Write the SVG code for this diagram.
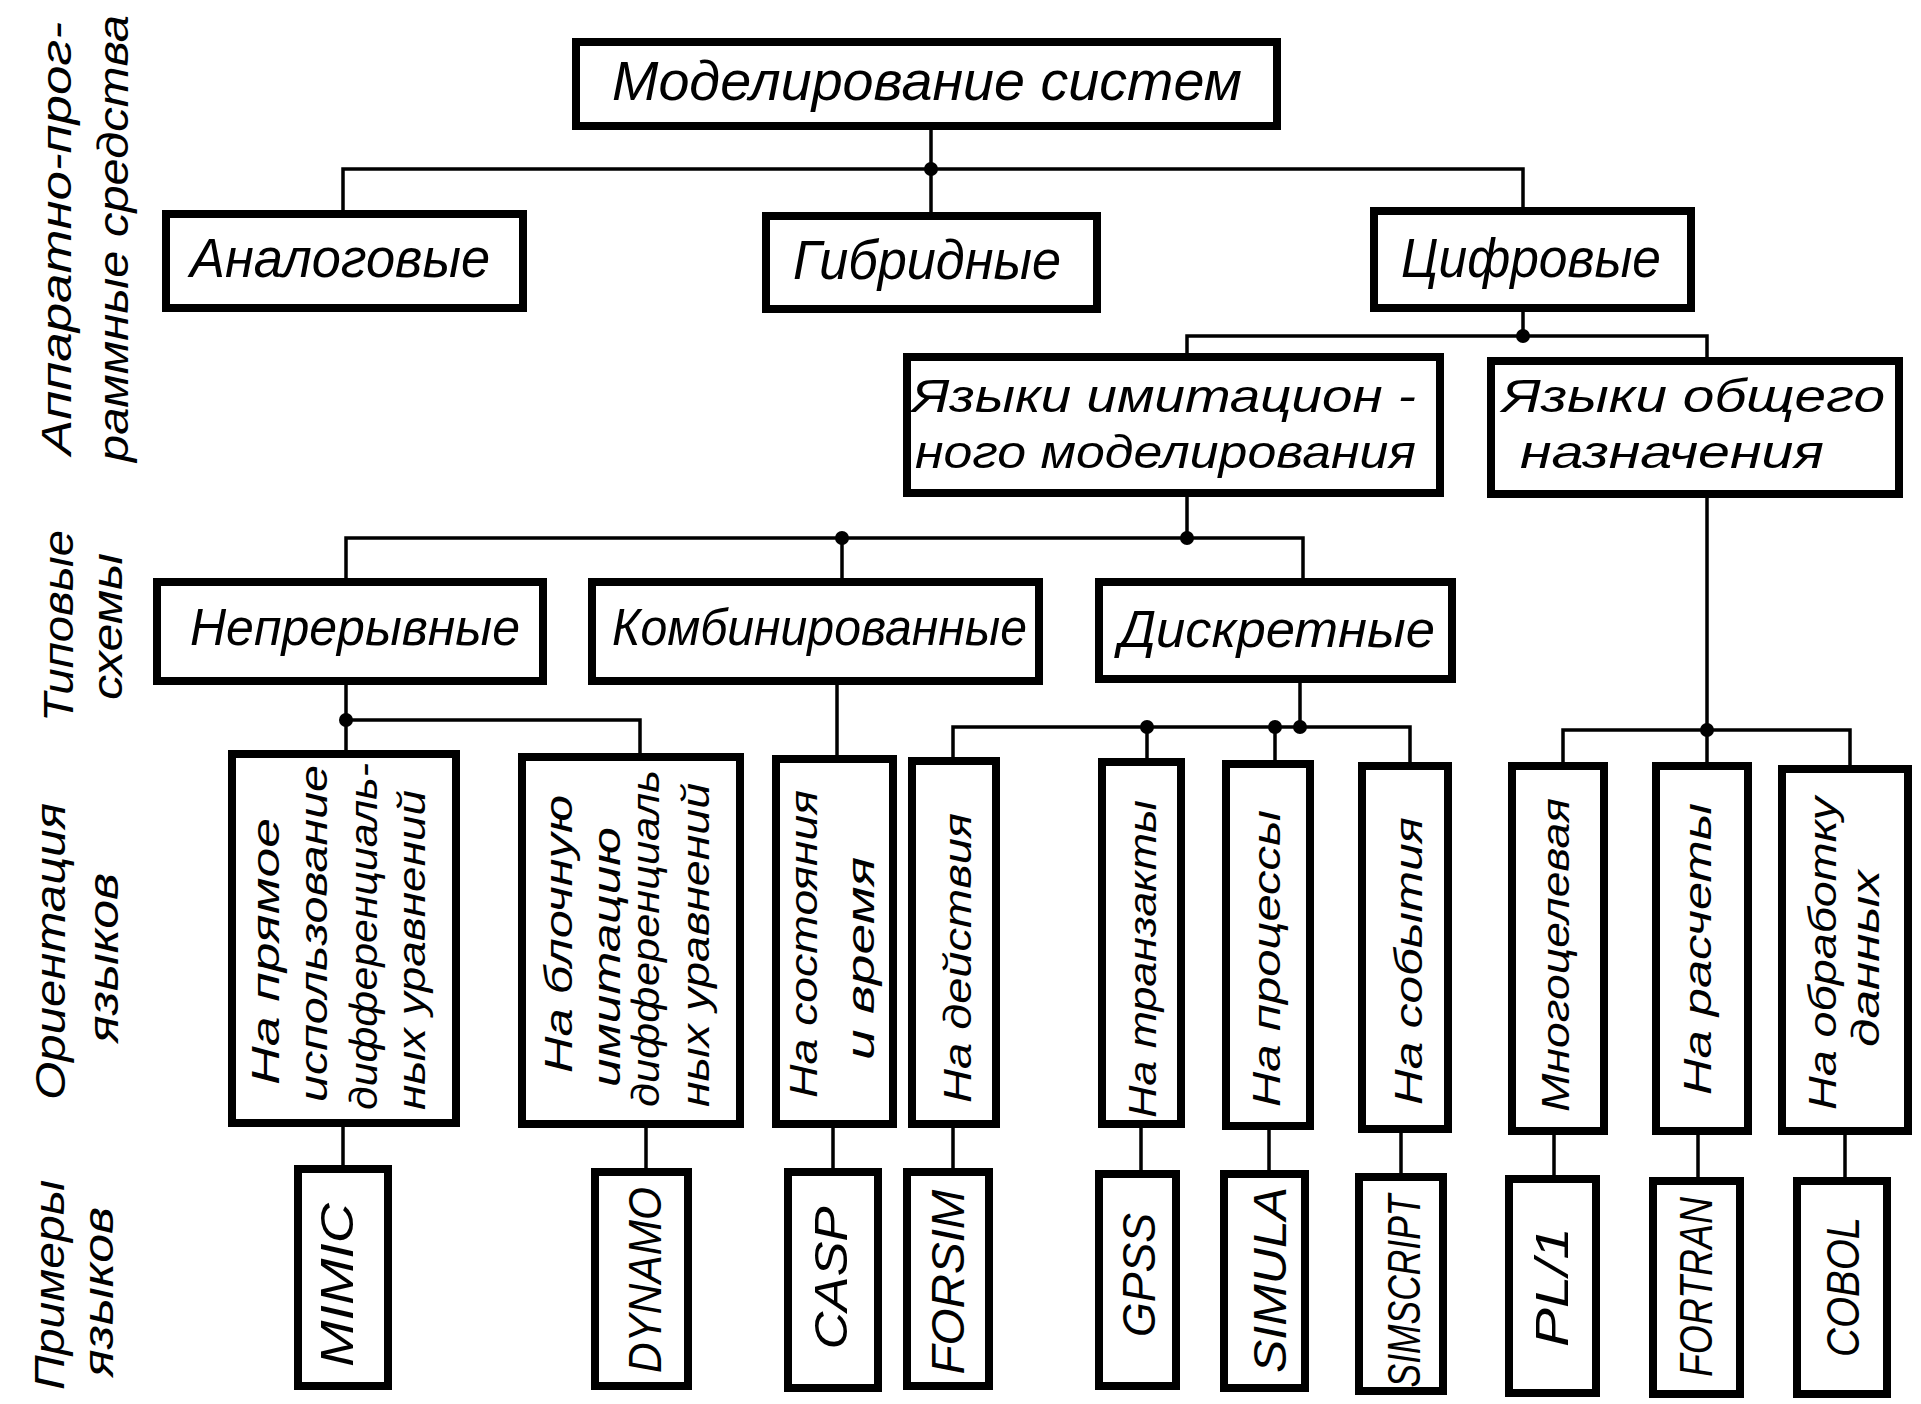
<svg xmlns="http://www.w3.org/2000/svg" width="1921" height="1404" viewBox="0 0 1921 1404">
<style>
.box{fill:#fff;stroke:#000;stroke-width:8}
.t{font-family:"Liberation Sans","DejaVu Sans",sans-serif;font-style:italic;fill:#000}
.h1{font-size:56px}
.h3{font-size:46px}
.h4{font-size:52px}
.v5{font-size:39px}
.v6{font-size:46px}
.lab{font-size:42px}
.conn{fill:none;stroke:#000;stroke-width:3.5}
.dot{fill:#000}
</style>
<rect width="1921" height="1404" fill="#fff"/>

<g id="side-labels">
<text class="t lab" transform="translate(56,455) rotate(-90)" dominant-baseline="central" textLength="433" lengthAdjust="spacingAndGlyphs">Аппаратно-прог-</text>
<text class="t lab" transform="translate(113,462) rotate(-90)" dominant-baseline="central" textLength="447" lengthAdjust="spacingAndGlyphs">раммные средства</text>
<text class="t lab" transform="translate(58,722) rotate(-90)" dominant-baseline="central" textLength="192" lengthAdjust="spacingAndGlyphs">Типовые</text>
<text class="t lab" transform="translate(107,700) rotate(-90)" dominant-baseline="central" textLength="147" lengthAdjust="spacingAndGlyphs">схемы</text>
<text class="t lab" transform="translate(50,1100) rotate(-90)" dominant-baseline="central" textLength="297" lengthAdjust="spacingAndGlyphs">Ориентация</text>
<text class="t lab" transform="translate(103,1043) rotate(-90)" dominant-baseline="central" textLength="170" lengthAdjust="spacingAndGlyphs">языков</text>
<text class="t lab" transform="translate(49,1390) rotate(-90)" dominant-baseline="central" textLength="210" lengthAdjust="spacingAndGlyphs">Примеры</text>
<text class="t lab" transform="translate(98,1377) rotate(-90)" dominant-baseline="central" textLength="170" lengthAdjust="spacingAndGlyphs">языков</text>
</g>

<g id="connectors">
<path class="conn" d="M931 128V169M343 210V169H1523V207M931 169V212"/>
<path class="conn" d="M1523 312V336M1187 353V336H1707V357"/>
<path class="conn" d="M1187 497V538M346 578V538H1303V578M842 538V578"/>
<path class="conn" d="M346 685V750M346 720H640V753"/>
<path class="conn" d="M837 685V755"/>
<path class="conn" d="M1300 683V727M953 757V727H1410V762M1147 727V758M1275 727V760"/>
<path class="conn" d="M1707 498V762M1563 762V730H1850V765"/>
<path class="conn" d="M343 1127V1165M646 1128V1168M833 1128V1168M953 1128V1168M1141 1128V1170M1269 1130V1170M1401 1133V1173M1554 1135V1175M1698 1135V1177M1845 1135V1177"/>
<circle class="dot" cx="931" cy="169" r="7"/>
<circle class="dot" cx="1523" cy="336" r="7"/>
<circle class="dot" cx="1187" cy="538" r="7"/>
<circle class="dot" cx="842" cy="538" r="7"/>
<circle class="dot" cx="346" cy="720" r="7"/>
<circle class="dot" cx="1300" cy="727" r="7"/>
<circle class="dot" cx="1147" cy="727" r="7"/>
<circle class="dot" cx="1275" cy="727" r="7"/>
<circle class="dot" cx="1707" cy="730" r="7"/>
</g>

<g id="n-root"><rect class="box" x="576" y="42" width="701" height="84"/>
<text class="t h1" x="612" y="100" textLength="630" lengthAdjust="spacingAndGlyphs">Моделирование систем</text></g>

<g id="n-analog"><rect class="box" x="166" y="214" width="357" height="94"/>
<text class="t h1" x="190" y="277" textLength="300" lengthAdjust="spacingAndGlyphs">Аналоговые</text></g>
<g id="n-hybrid"><rect class="box" x="766" y="216" width="331" height="93"/>
<text class="t h1" x="793" y="279" textLength="268" lengthAdjust="spacingAndGlyphs">Гибридные</text></g>
<g id="n-digital"><rect class="box" x="1374" y="211" width="317" height="97"/>
<text class="t h1" x="1401" y="277" textLength="260" lengthAdjust="spacingAndGlyphs">Цифровые</text></g>

<g id="n-simlang"><rect class="box" x="907" y="357" width="533" height="136"/>
<text class="t h3" x="912" y="412" textLength="504" lengthAdjust="spacingAndGlyphs">Языки имитацион -</text>
<text class="t h3" x="915" y="468" textLength="501" lengthAdjust="spacingAndGlyphs">ного моделирования</text></g>
<g id="n-genlang"><rect class="box" x="1491" y="361" width="408" height="133"/>
<text class="t h3" x="1502" y="412" textLength="383" lengthAdjust="spacingAndGlyphs">Языки общего</text>
<text class="t h3" x="1520" y="468" textLength="304" lengthAdjust="spacingAndGlyphs">назначения</text></g>

<g id="n-cont"><rect class="box" x="157" y="582" width="386" height="99"/>
<text class="t h4" x="190" y="645" textLength="330" lengthAdjust="spacingAndGlyphs">Непрерывные</text></g>
<g id="n-comb"><rect class="box" x="592" y="582" width="447" height="99"/>
<text class="t h4" x="612" y="645" textLength="415" lengthAdjust="spacingAndGlyphs">Комбинированные</text></g>
<g id="n-disc"><rect class="box" x="1099" y="582" width="353" height="97"/>
<text class="t h4" x="1119" y="647" textLength="316" lengthAdjust="spacingAndGlyphs">Дискретные</text></g>

<g id="n-direct"><rect class="box" x="232" y="754" width="224" height="369"/>
<text class="t v5" transform="translate(265,1085) rotate(-90)" dominant-baseline="central" textLength="267" lengthAdjust="spacingAndGlyphs">На прямое</text>
<text class="t v5" transform="translate(313,1102) rotate(-90)" dominant-baseline="central" textLength="337" lengthAdjust="spacingAndGlyphs">использование</text>
<text class="t v5" transform="translate(363,1110) rotate(-90)" dominant-baseline="central" textLength="347" lengthAdjust="spacingAndGlyphs">дифференциаль-</text>
<text class="t v5" transform="translate(411,1110) rotate(-90)" dominant-baseline="central" textLength="320" lengthAdjust="spacingAndGlyphs">ных уравнений</text></g>
<g id="n-block"><rect class="box" x="522" y="757" width="218" height="367"/>
<text class="t v5" transform="translate(558,1073) rotate(-90)" dominant-baseline="central" textLength="278" lengthAdjust="spacingAndGlyphs">На блочную</text>
<text class="t v5" transform="translate(606,1087) rotate(-90)" dominant-baseline="central" textLength="260" lengthAdjust="spacingAndGlyphs">имитацию</text>
<text class="t v5" transform="translate(645,1107) rotate(-90)" dominant-baseline="central" textLength="337" lengthAdjust="spacingAndGlyphs">дифференциаль</text>
<text class="t v5" transform="translate(695,1107) rotate(-90)" dominant-baseline="central" textLength="324" lengthAdjust="spacingAndGlyphs">ных уравнений</text></g>
<g id="n-state"><rect class="box" x="776" y="759" width="117" height="365"/>
<text class="t v5" transform="translate(803,1098) rotate(-90)" dominant-baseline="central" textLength="308" lengthAdjust="spacingAndGlyphs">На состояния</text>
<text class="t v5" transform="translate(860,1060) rotate(-90)" dominant-baseline="central" textLength="203" lengthAdjust="spacingAndGlyphs">и время</text></g>
<g id="n-action"><rect class="box" x="912" y="761" width="84" height="363"/>
<text class="t v5" transform="translate(957,1103) rotate(-90)" dominant-baseline="central" textLength="290" lengthAdjust="spacingAndGlyphs">На действия</text></g>
<g id="n-trans"><rect class="box" x="1102" y="762" width="79" height="362"/>
<text class="t v5" transform="translate(1142,1118) rotate(-90)" dominant-baseline="central" textLength="318" lengthAdjust="spacingAndGlyphs">На транзакты</text></g>
<g id="n-proc"><rect class="box" x="1226" y="764" width="84" height="362"/>
<text class="t v5" transform="translate(1266,1107) rotate(-90)" dominant-baseline="central" textLength="297" lengthAdjust="spacingAndGlyphs">На процессы</text></g>
<g id="n-event"><rect class="box" x="1362" y="766" width="86" height="363"/>
<text class="t v5" transform="translate(1408,1105) rotate(-90)" dominant-baseline="central" textLength="288" lengthAdjust="spacingAndGlyphs">На события</text></g>
<g id="n-multi"><rect class="box" x="1512" y="766" width="92" height="365"/>
<text class="t v5" transform="translate(1555,1112) rotate(-90)" dominant-baseline="central" textLength="314" lengthAdjust="spacingAndGlyphs">Многоцелевая</text></g>
<g id="n-calc"><rect class="box" x="1656" y="766" width="92" height="365"/>
<text class="t v5" transform="translate(1697,1095) rotate(-90)" dominant-baseline="central" textLength="292" lengthAdjust="spacingAndGlyphs">На расчеты</text></g>
<g id="n-data"><rect class="box" x="1782" y="769" width="126" height="362"/>
<text class="t v5" transform="translate(1822,1110) rotate(-90)" dominant-baseline="central" textLength="313" lengthAdjust="spacingAndGlyphs">На обработку</text>
<text class="t v5" transform="translate(1865,1047) rotate(-90)" dominant-baseline="central" textLength="177" lengthAdjust="spacingAndGlyphs">данных</text></g>

<g id="n-mimic"><rect class="box" x="298" y="1169" width="90" height="217"/>
<text class="t v6" transform="translate(337,1285) rotate(-90)" text-anchor="middle" dominant-baseline="central" textLength="164" lengthAdjust="spacingAndGlyphs">MIMIC</text></g>
<g id="n-dynamo"><rect class="box" x="595" y="1172" width="93" height="214"/>
<text class="t v6" transform="translate(645,1280) rotate(-90)" text-anchor="middle" dominant-baseline="central" textLength="186" lengthAdjust="spacingAndGlyphs">DYNAMO</text></g>
<g id="n-casp"><rect class="box" x="788" y="1172" width="90" height="216"/>
<text class="t v6" transform="translate(831,1278) rotate(-90)" text-anchor="middle" dominant-baseline="central" textLength="143" lengthAdjust="spacingAndGlyphs">CASP</text></g>
<g id="n-forsim"><rect class="box" x="907" y="1172" width="82" height="214"/>
<text class="t v6" transform="translate(948,1282) rotate(-90)" text-anchor="middle" dominant-baseline="central" textLength="185" lengthAdjust="spacingAndGlyphs">FORSIM</text></g>
<g id="n-gpss"><rect class="box" x="1099" y="1174" width="77" height="212"/>
<text class="t v6" transform="translate(1139,1275) rotate(-90)" text-anchor="middle" dominant-baseline="central" textLength="124" lengthAdjust="spacingAndGlyphs">GPSS</text></g>
<g id="n-simula"><rect class="box" x="1224" y="1174" width="81" height="214"/>
<text class="t v6" transform="translate(1270,1280) rotate(-90)" text-anchor="middle" dominant-baseline="central" textLength="186" lengthAdjust="spacingAndGlyphs">SIMULA</text></g>
<g id="n-simscript"><rect class="box" x="1359" y="1177" width="84" height="214"/>
<text class="t v6" transform="translate(1404,1291) rotate(-90)" text-anchor="middle" dominant-baseline="central" textLength="193" lengthAdjust="spacingAndGlyphs">SIMSCRIPT</text></g>
<g id="n-pl1"><rect class="box" x="1509" y="1179" width="87" height="214"/>
<text class="t v6" transform="translate(1552,1287) rotate(-90)" text-anchor="middle" dominant-baseline="central" textLength="120" lengthAdjust="spacingAndGlyphs">PL/1</text></g>
<g id="n-fortran"><rect class="box" x="1653" y="1181" width="87" height="213"/>
<text class="t v6" transform="translate(1696,1287) rotate(-90)" text-anchor="middle" dominant-baseline="central" textLength="180" lengthAdjust="spacingAndGlyphs">FORTRAN</text></g>
<g id="n-cobol"><rect class="box" x="1797" y="1181" width="90" height="213"/>
<text class="t v6" transform="translate(1843,1287) rotate(-90)" text-anchor="middle" dominant-baseline="central" textLength="140" lengthAdjust="spacingAndGlyphs">COBOL</text></g>
</svg>
